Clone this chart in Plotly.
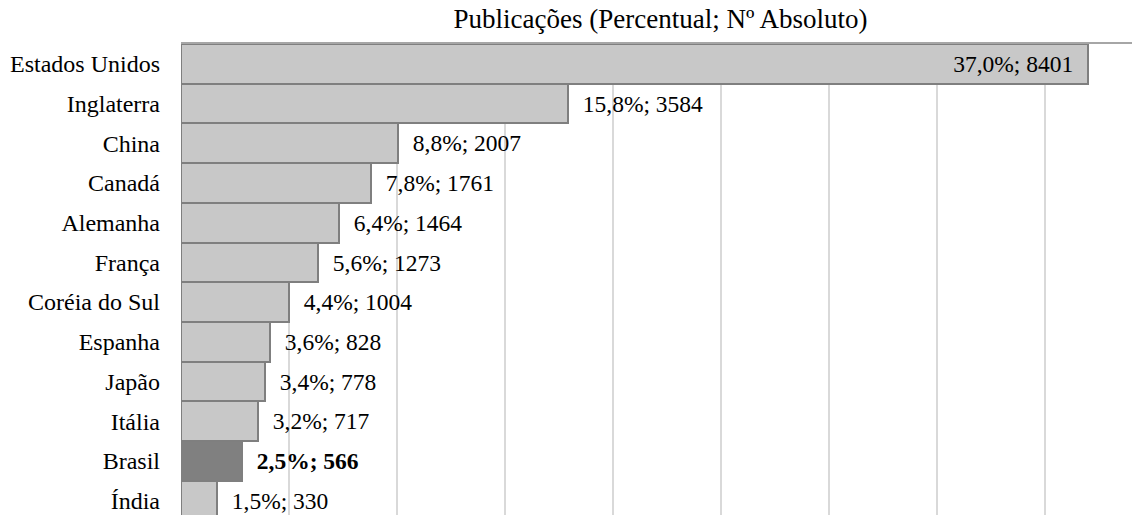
import plotly.graph_objects as go

countries = ["Estados Unidos", "Inglaterra", "China", "Canadá", "Alemanha", "França",
             "Coréia do Sul", "Espanha", "Japão", "Itália", "Brasil", "Índia"]
counts = [8401, 3584, 2007, 1761, 1464, 1273, 1004, 828, 778, 717, 566, 330]
percents = ["37,0%", "15,8%", "8,8%", "7,8%", "6,4%", "5,6%", "4,4%", "3,6%", "3,4%", "3,2%", "2,5%", "1,5%"]
highlight = "Brasil"

SERIF = "Liberation Serif"

labels = []
positions = []
fills = []
for i, (c, n, p) in enumerate(zip(countries, counts, percents)):
    t = f"{p}; {n}"
    if c == highlight:
        t = f"<b>{t}</b>"
    if i == 0:
        labels.append(t + "\u00a0\u00a0")
        positions.append("inside")
    else:
        labels.append("\u00a0\u00a0" + t)
        positions.append("outside")
    fills.append("#808080" if c == highlight else "#c8c8c8")

fig = go.Figure(go.Bar(
    x=counts, y=countries, orientation="h",
    text=labels, textposition=positions, insidetextanchor="end",
    textfont=dict(family=SERIF, size=23.5, color="#000000"),
    insidetextfont=dict(family=SERIF, size=23.5, color="#000000"),
    outsidetextfont=dict(family=SERIF, size=23.5, color="#000000"),
    constraintext="none", cliponaxis=False,
    marker=dict(color=fills, line=dict(color="#7f7f7f", width=2)),
    hoverinfo="skip",
))

# the page body has an 8px default margin, so the figure is offset by (8, 8)
fig.update_layout(
    width=1140, height=515,
    margin=dict(l=173, r=8, t=36, b=8, autoexpand=False),
    paper_bgcolor="white", plot_bgcolor="white",
    font=dict(family=SERIF, color="#000000"),
    bargap=0, showlegend=False,
    title=dict(text="Publicações (Percentual; Nº Absoluto)", x=0.5, xref="paper",
               y=1 - 11 / 515, yref="container", yanchor="middle", xanchor="center",
               font=dict(family=SERIF, size=27, color="#000000")),
    xaxis=dict(range=[0, 8880], side="top", showticklabels=False, dtick=1000, tick0=0,
               showgrid=True, gridcolor="#d9d9d9", gridwidth=2, zeroline=False,
               showline=True, linecolor="#a6a6a6", linewidth=2, ticks="", automargin=False),
    yaxis=dict(range=[11.364, -0.5], showgrid=False, zeroline=False, showline=False,
               ticks="", ticklabelstandoff=20, automargin=False,
               tickfont=dict(family=SERIF, size=24, color="#000000")),
)

fig.write_html("out.html")
